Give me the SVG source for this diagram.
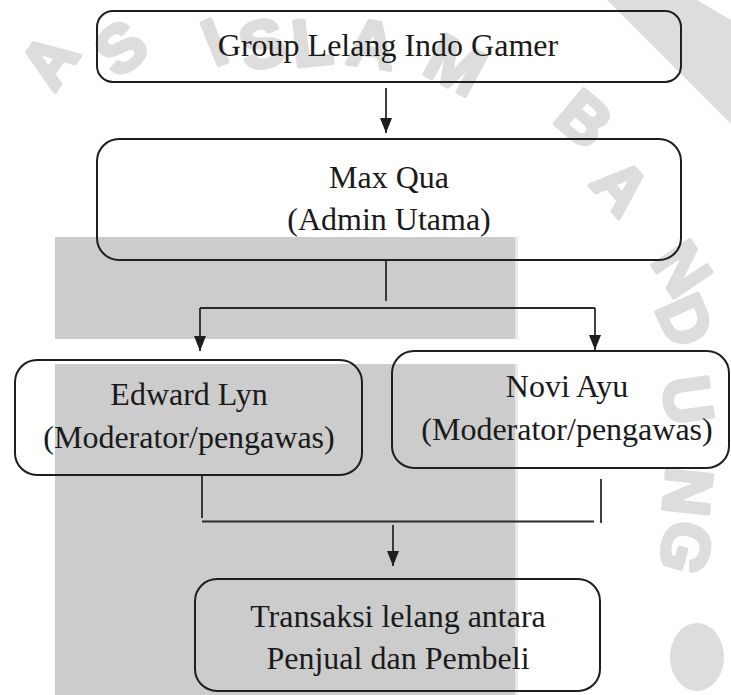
<svg xmlns="http://www.w3.org/2000/svg" width="731" height="695" viewBox="0 0 731 695">
<style>
.box{fill:none;stroke:#1e1e1e;stroke-width:2}
.lbl{font-family:"Liberation Serif","Times New Roman",serif;font-size:32px;fill:#1a1a1a;text-anchor:middle}
.con{stroke:#2a2a2a;stroke-width:1.8;fill:none}
.wm{font-family:"Liberation Sans",Arial,sans-serif;font-weight:bold;font-size:66px;fill:#dddddd;stroke:#dddddd;stroke-width:4;stroke-linejoin:round;text-anchor:middle}
</style>
<defs>
<marker id="ah" markerUnits="userSpaceOnUse" markerWidth="15" markerHeight="14" refX="15" refY="6" orient="auto">
<path d="M0,0 L15,6 L0,12 z" fill="#1e1e1e"/>
</marker>
</defs>
<rect width="731" height="695" fill="#ffffff"/>
<g id="watermark">
<text class="wm" transform="translate(48,60) rotate(-55)" y="24">A</text>
<text class="wm" transform="translate(120,47) rotate(-38)" y="24">S</text>
<text class="wm" transform="translate(214,41) rotate(-22)" y="24">I</text>
<text class="wm" transform="translate(262,43) rotate(-14)" y="24">S</text>
<text class="wm" transform="translate(312,41) rotate(-6)" y="24">L</text>
<text class="wm" transform="translate(372,43) rotate(8)" y="24">A</text>
<text class="wm" transform="translate(456,64) rotate(28)" y="24">M</text>
<text class="wm" transform="translate(585,118) rotate(40)" y="24">B</text>
<text class="wm" transform="translate(622,186) rotate(48)" y="24">A</text>
<text class="wm" transform="translate(683,268) rotate(56)" y="24">N</text>
<text class="wm" transform="translate(686,320) rotate(66)" y="24">D</text>
<text class="wm" transform="translate(689,400) rotate(82)" y="24">U</text>
<text class="wm" transform="translate(689,492) rotate(96)" y="24">N</text>
<text class="wm" transform="translate(687,548) rotate(106)" y="24">G</text>
<polygon points="607,0 697,0 731,20 731,124" fill="#dddddd"/>
<ellipse cx="697" cy="657" rx="27" ry="34" fill="#dddddd"/>
</g>
<g id="shade">
<rect x="55" y="237" width="460" height="102" fill="#cccccc"/>
<rect x="55" y="364" width="460" height="331" fill="#cccccc"/>
<rect x="515" y="237" width="3" height="102" fill="#e8e8e8"/>
<rect x="515" y="364" width="3" height="331" fill="#e8e8e8"/>
</g>
<g id="connectors">
<line class="con" x1="386" y1="88" x2="386" y2="133" marker-end="url(#ah)"/>
<line class="con" x1="386" y1="260" x2="386" y2="301"/>
<line class="con" x1="200" y1="308" x2="595" y2="308"/>
<line class="con" x1="200" y1="308" x2="200" y2="351" marker-end="url(#ah)"/>
<line class="con" x1="595" y1="308" x2="595" y2="350" marker-end="url(#ah)"/>
<line class="con" x1="202" y1="475" x2="202" y2="518"/>
<line class="con" x1="601" y1="479" x2="601" y2="523"/>
<line class="con" x1="202" y1="521.5" x2="594" y2="521.5"/>
<line class="con" x1="393" y1="525" x2="393" y2="566" marker-end="url(#ah)"/>
</g>
<g id="node-group">
<rect class="box" x="97" y="11" width="584" height="71" rx="16"/>
<text class="lbl" x="388" y="56">Group Lelang Indo Gamer</text>
</g>
<g id="node-admin">
<rect class="box" x="97" y="139" width="584" height="121" rx="22"/>
<text class="lbl" x="389" y="188">Max Qua</text>
<text class="lbl" x="389" y="230">(Admin Utama)</text>
</g>
<g id="node-edward">
<rect class="box" x="15" y="360" width="347" height="115" rx="22"/>
<text class="lbl" x="189" y="405">Edward Lyn</text>
<text class="lbl" x="189" y="448">(Moderator/pengawas)</text>
</g>
<g id="node-novi">
<rect class="box" x="392" y="351" width="337" height="117" rx="22"/>
<text class="lbl" x="567" y="397">Novi Ayu</text>
<text class="lbl" x="567" y="440">(Moderator/pengawas)</text>
</g>
<g id="node-transaksi">
<rect class="box" x="195" y="579" width="405" height="112" rx="22"/>
<text class="lbl" x="398" y="627">Transaksi lelang antara</text>
<text class="lbl" x="398" y="669">Penjual dan Pembeli</text>
</g>
</svg>
